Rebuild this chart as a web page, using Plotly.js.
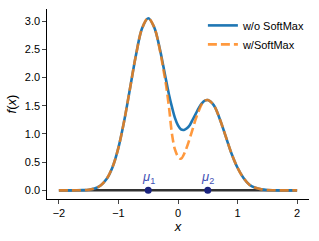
<!DOCTYPE html>
<html>
<head>
<meta charset="utf-8">
<script src="https://cdn.plot.ly/plotly-3.0.1.min.js"></script>
<style>html,body{margin:0;padding:0;background:#fff;}#chart{width:319px;height:241px;}</style>
</head>
<body>
<div id="chart"></div>
<script>
var xs = [-2.0,-1.9,-1.8,-1.7,-1.6,-1.5,-1.4,-1.3,-1.2,-1.1,-1.0,-0.9,-0.8,-0.7,-0.6,-0.5,-0.4,
  -0.3,-0.25,-0.2,-0.15,-0.1,-0.05,0.0,0.05,0.1,0.15,0.2,0.25,0.3,0.35,0.4,0.45,0.5,
  0.6,0.7,0.8,0.9,1.0,1.1,1.2,1.3,1.4,1.5,1.6,1.7,1.8,1.9,2.0];
var noSoftmax = [0.0,0.0,0.0003,0.001,0.004,0.012,0.034,0.087,0.200,0.411,0.758,1.25,1.84,2.43,2.88,3.05,2.89,
  2.48,2.22,1.95,1.69,1.47,1.28,1.15,1.08,1.07,1.10,1.16,1.26,1.36,1.46,1.54,1.59,1.60,
  1.51,1.27,0.96,0.65,0.40,0.22,0.10,0.045,0.018,0.006,0.002,0.0005,0.0001,0.0,0.0];
var withSoftmax = [0.0,0.0,0.0003,0.001,0.004,0.012,0.034,0.087,0.200,0.411,0.758,1.25,1.84,2.43,2.88,3.05,2.89,
  2.46,2.17,1.86,1.46,0.99,0.72,0.60,0.56,0.64,0.77,0.93,1.10,1.27,1.41,1.53,1.59,1.60,
  1.51,1.27,0.96,0.65,0.40,0.22,0.10,0.045,0.018,0.006,0.002,0.0005,0.0001,0.0,0.0];
var baseX = [-2, 2];
var baseY = [0, 0];
var muX = [-0.5, 0.5];
var muY = [0, 0];
var muLabels = ['<i>μ</i><sub>1</sub>', '<i>μ</i><sub>2</sub>'];
var xTicks = [-2, -1, 0, 1, 2];
var yTicks = [0, 0.5, 1.0, 1.5, 2.0, 2.5, 3.0];

var font = 'Liberation Sans, Arial, sans-serif';
var traces = [
  {x: baseX, y: baseY, mode: 'lines', line: {color: '#333333', width: 2.5}, showlegend: false, hoverinfo: 'skip'},
  {x: xs, y: noSoftmax, mode: 'lines', name: 'w/o SoftMax', line: {color: '#1f77b4', width: 2.6, shape: 'spline'}},
  {x: xs, y: withSoftmax, mode: 'lines', name: 'w/SoftMax', line: {color: 'rgba(255,127,14,0.8)', width: 2.6, dash: '9px,4px', shape: 'spline'}},
  {x: muX, y: muY, mode: 'markers', marker: {color: '#1a237e', size: 7}, showlegend: false}
];
var annotations = muLabels.map(function(t, i){
  return {x: muX[i], y: muY[i], xref: 'x', yref: 'y', text: t, showarrow: false, yshift: 13,
    font: {family: font, size: 13, color: '#3f51b5'}};
});
var layout = {
  width: 319, height: 241,
  margin: {l: 47, r: 10, t: 9, b: 42, autoexpand: false},
  paper_bgcolor: '#ffffff', plot_bgcolor: '#ffffff',
  font: {family: font, size: 11, color: '#000'},
  showlegend: true,
  legend: {x: 0.595, xanchor: 'left', y: 0.99, yanchor: 'top', bgcolor: 'rgba(0,0,0,0)', font: {size: 11}, tracegroupgap: 0, itemwidth: 30},
  xaxis: {range: [-2.2, 2.2], tickvals: xTicks, ticks: 'outside', ticklen: 3.5, tickwidth: 1, showgrid: false, zeroline: false,
    showline: true, linecolor: '#000', linewidth: 1.2, tickfont: {size: 11},
    title: {text: '<i>x</i>', font: {size: 13}, standoff: 3}},
  yaxis: {range: [-0.153, 3.213], tickvals: yTicks, tickformat: '.1f', ticks: 'outside', ticklen: 3.5, tickwidth: 1, showgrid: false, zeroline: false,
    showline: true, linecolor: '#000', linewidth: 1.2, tickfont: {size: 11},
    title: {text: '<i>f</i>(<i>x</i>)', font: {size: 13}, standoff: 5}},
  annotations: annotations
};
Plotly.newPlot('chart', traces, layout, {staticPlot: true, displayModeBar: false});
</script>
</body>
</html>
